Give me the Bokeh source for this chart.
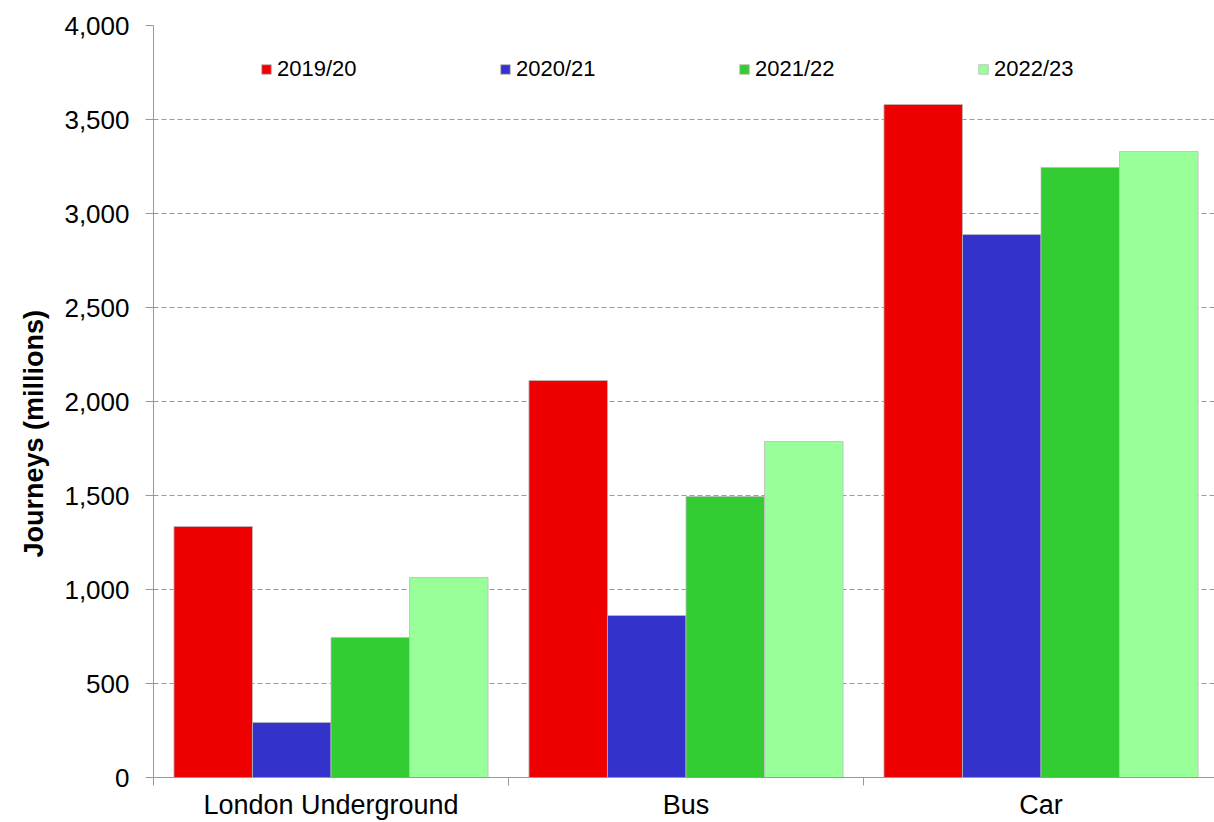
from bokeh.plotting import figure
from bokeh.models import (ColumnDataSource, Range1d, FixedTicker, Legend, LegendItem,
                          NumeralTickFormatter, Title)
from bokeh.transform import dodge
from bokeh.embed import file_html
from bokeh.resources import INLINE

categories = ["London Underground", "Bus", "Car"]
years = ["2019/20", "2020/21", "2021/22", "2022/23"]
v_2019 = [1335, 2112, 3580]
v_2020 = [293, 862, 2888]
v_2021 = [745, 1495, 3245]
v_2022 = [1064, 1787, 3330]
colors = ["#EE0000", "#3333CC", "#33CC33", "#99FF99"]
y_ticks = list(range(0, 4001, 500))
y_title = "Journeys (millions)"

series = [v_2019, v_2020, v_2021, v_2022]
data = {"x": [i + 0.5 for i in range(len(categories))]}
for yr, vals in zip(years, series):
    data[yr] = vals
source = ColumnDataSource(data)

W, H = 1214, 822
left, top, bottom = 153, 25, 45
frame_w = W - left
group_px = 355.0
x_end = frame_w / group_px

FONT = "Liberation Sans"

p = figure(width=W, height=H, output_backend="svg", toolbar_location=None,
           x_range=Range1d(0, x_end), y_range=Range1d(0, 4000),
           min_border_left=left, min_border_right=0, min_border_top=top,
           min_border_bottom=bottom)
p.outline_line_color = None

bw = 0.2212
renderers = []
for k, (yr, c) in enumerate(zip(years, colors)):
    r = p.vbar(x=dodge("x", (k - 1.5) * bw, range=p.x_range), top=yr, width=bw,
               bottom=0, source=source, fill_color=c, line_color="#BBBBBB",
               line_width=0.8)
    renderers.append(r)

legend = Legend(items=[LegendItem(label=yr, renderers=[r]) for yr, r in zip(years, renderers)],
                orientation="horizontal", location=(107, 695),
                glyph_width=12, glyph_height=12, label_standoff=5, label_width=90,
                spacing=132, padding=0, margin=0,
                border_line_color=None, background_fill_alpha=0,
                label_text_font=FONT, label_text_font_size="22px",
                label_text_color="#000000")
p.add_layout(legend, "center")

# x axis
p.xaxis.ticker = FixedTicker(ticks=[i + 0.5 for i in range(len(categories))],
                             minor_ticks=list(range(len(categories) + 1)))
p.xaxis.major_label_overrides = {i + 0.5: c for i, c in enumerate(categories)}
p.xaxis.major_tick_line_color = None
p.xaxis.major_tick_in = 0
p.xaxis.major_tick_out = 0
p.xaxis.minor_tick_in = 0
p.xaxis.minor_tick_out = 8
p.xaxis.minor_tick_line_color = "#999999"
p.xaxis.axis_line_color = "#999999"
p.xaxis.major_label_text_font = FONT
p.xaxis.major_label_text_font_size = "27px"
p.xaxis.major_label_text_color = "#000000"
p.xaxis.major_label_standoff = 4
p.xgrid.grid_line_color = None

# y axis
p.yaxis.ticker = FixedTicker(ticks=y_ticks)
p.yaxis.formatter = NumeralTickFormatter(format="0,0")
p.yaxis.minor_tick_line_color = None
p.yaxis.major_tick_in = 0
p.yaxis.major_tick_out = 8
p.yaxis.major_tick_line_color = "#999999"
p.yaxis.axis_line_color = "#999999"
p.yaxis.major_label_text_font = FONT
p.yaxis.major_label_text_font_size = "26px"
p.yaxis.major_label_text_color = "#000000"
p.yaxis.major_label_standoff = 16
p.ygrid.grid_line_color = "#999999"
p.ygrid.grid_line_dash = "5 3"
p.ygrid.grid_line_width = 1

ytitle = Title(text=y_title, align="left", offset=220, standoff=26,
               text_font=FONT, text_font_size="27px", text_font_style="bold",
               text_color="#000000")
p.add_layout(ytitle, "left")

open("out.html", "w").write(file_html(p, INLINE))
